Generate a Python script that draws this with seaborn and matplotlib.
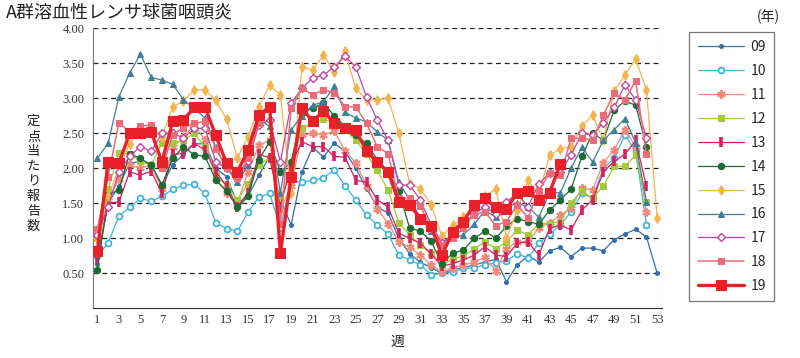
import pandas as pd
import numpy as np
import matplotlib
matplotlib.use("Agg")
import matplotlib.pyplot as plt
import seaborn as sns

sns.set_style("white")
plt.rcParams['font.family'] = ['Noto Sans CJK JP', 'DejaVu Sans']

# 定点当たり報告数（週別）
y09 = [0.64, 1.50, 1.75, 2.07, 2.10, 2.05, 1.75, 2.05, 2.20, 2.35, 2.35, 2.00, 1.88, 1.50, 1.60, 1.90, 2.17, 1.55,
       1.19, 1.95, 2.30, 2.16, 2.36, 2.24, 2.00, 1.71, 1.45, 1.36, 1.00, 0.78, 0.66, 0.58, 0.50, 0.55, 0.58, 0.62,
       0.66, 0.70, 0.38, 0.62, 0.75, 0.66, 0.82, 0.87, 0.74, 0.86, 0.86, 0.82, 0.98, 1.06, 1.13, 1.02, 0.50]
y10 = [0.75, 0.93, 1.32, 1.44, 1.57, 1.53, 1.60, 1.70, 1.76, 1.77, 1.64, 1.22, 1.14, 1.10, 1.37, 1.59, 1.64, 1.15,
       1.82, 1.80, 1.83, 1.86, 1.98, 1.75, 1.55, 1.33, 1.19, 1.06, 0.76, 0.69, 0.62, 0.48, 0.50, 0.52, 0.57, 0.58,
       0.62, 0.65, 0.68, 0.78, 0.72, 0.93, 1.06, 1.19, 1.38, 1.64, 1.58, 2.00, 2.14, 2.48, 2.24, 1.19]
y11 = [1.00, 1.55, 1.85, 2.05, 2.00, 2.05, 1.70, 2.30, 2.45, 2.62, 2.40, 1.85, 1.65, 1.50, 1.95, 2.33, 2.40, 1.40,
       1.75, 2.47, 2.50, 2.48, 2.53, 2.25, 2.08, 1.75, 1.42, 1.21, 0.95, 0.87, 0.76, 0.62, 0.52, 0.58, 0.62, 0.66,
       0.73, 0.54, 0.85, 0.95, 0.95, 1.15, 1.22, 1.33, 1.43, 1.72, 1.69, 2.08, 2.26, 2.55, 2.31, 1.38]
y12 = [1.00, 1.70, 2.22, 2.20, 2.10, 2.05, 2.36, 2.36, 2.40, 2.50, 2.30, 1.90, 1.75, 1.55, 1.78, 2.05, 2.15, 1.55,
       2.00, 2.57, 2.65, 2.70, 2.65, 2.55, 2.40, 2.20, 1.97, 1.69, 1.22, 1.05, 0.90, 0.78, 0.62, 0.70, 0.75, 0.85,
       0.95, 0.85, 0.95, 1.12, 1.05, 1.21, 1.21, 1.24, 1.51, 1.68, 1.57, 1.75, 2.03, 2.03, 2.19, 1.52]
y13 = [0.70, 1.50, 1.52, 1.95, 1.90, 1.96, 1.64, 2.20, 2.21, 2.36, 2.26, 1.95, 1.75, 1.45, 1.65, 2.20, 2.15, 1.45,
       2.05, 2.38, 2.31, 2.31, 2.17, 2.16, 1.83, 1.80, 1.55, 1.45, 1.07, 1.00, 0.93, 0.78, 0.60, 0.64, 0.69, 0.76,
       0.88, 0.76, 0.74, 0.93, 0.95, 0.76, 1.14, 1.19, 1.12, 1.40, 1.55, 1.95, 2.10, 2.20, 2.40, 1.74]
y14 = [0.55, 1.62, 1.69, 2.21, 2.14, 2.05, 1.76, 2.14, 2.31, 2.19, 2.17, 1.83, 1.68, 1.44, 1.60, 2.12, 2.38, 1.95,
       2.09, 2.79, 2.86, 2.93, 2.75, 2.60, 2.47, 2.36, 2.12, 1.95, 1.67, 1.15, 1.10, 0.96, 0.63, 0.79, 0.83, 1.00,
       1.10, 1.00, 1.17, 1.28, 1.24, 1.20, 1.40, 1.55, 1.70, 2.17, 2.50, 2.40, 2.83, 2.96, 2.90, 2.31]
y15 = [1.00, 1.60, 2.00, 2.35, 2.55, 2.55, 2.45, 2.88, 2.96, 3.12, 3.12, 2.97, 2.70, 2.15, 2.45, 2.88, 3.19, 3.04,
       1.64, 3.45, 3.40, 3.62, 3.38, 3.67, 3.14, 2.98, 2.98, 3.00, 2.50, 1.78, 1.71, 1.48, 1.03, 1.19, 1.30, 1.45,
       1.60, 1.71, 1.00, 1.40, 1.83, 1.62, 2.19, 2.28, 2.31, 2.60, 2.76, 2.40, 3.10, 3.33, 3.56, 3.12, 1.29]
y16 = [2.14, 2.36, 3.02, 3.36, 3.63, 3.30, 3.26, 3.20, 2.98, 2.85, 2.72, 2.30, 2.00, 1.80, 2.05, 2.70, 2.60, 1.65,
       2.55, 2.75, 2.90, 2.95, 3.17, 2.80, 2.72, 2.66, 2.52, 2.40, 1.80, 1.55, 1.30, 1.10, 0.95, 1.00, 1.05, 1.20,
       1.40, 1.30, 1.45, 1.50, 1.45, 1.30, 1.65, 1.65, 2.00, 2.30, 2.09, 2.40, 2.55, 2.71, 2.36, 1.52]
y17 = [1.05, 1.45, 1.95, 2.17, 2.31, 2.24, 2.50, 2.50, 2.43, 2.57, 2.57, 2.09, 2.00, 1.86, 2.10, 2.62, 2.69, 2.09,
       2.93, 3.14, 3.29, 3.33, 3.45, 3.60, 3.45, 3.02, 2.69, 2.40, 1.76, 1.76, 1.55, 1.19, 0.94, 1.05, 1.20, 1.35,
       1.45, 1.35, 1.52, 1.64, 1.45, 1.78, 1.93, 1.95, 2.19, 2.50, 2.48, 2.65, 2.87, 3.19, 2.98, 2.43]
y18 = [1.14, 1.88, 2.65, 2.52, 2.60, 2.62, 2.00, 2.48, 2.58, 2.64, 2.67, 2.28, 2.00, 1.86, 2.15, 2.64, 2.90, 1.20,
       2.86, 3.14, 3.05, 3.12, 3.08, 2.88, 2.88, 2.64, 2.31, 2.21, 1.57, 1.57, 1.46, 1.14, 0.90, 1.00, 1.15, 1.34,
       1.38, 1.18, 1.24, 1.48, 1.29, 1.68, 1.93, 1.90, 2.43, 2.43, 2.40, 2.76, 3.07, 2.98, 3.25, 2.20]
y19 = [0.82, 2.09, 2.07, 2.50, 2.50, 2.52, 2.09, 2.67, 2.69, 2.87, 2.87, 2.47, 2.07, 1.95, 2.26, 2.76, 2.88, 0.79,
       1.88, 2.86, 2.67, 2.82, 2.64, 2.57, 2.55, 2.24, 2.09, 1.95, 1.52, 1.48, 1.28, 1.17, 0.76, 1.09, 1.24, 1.48,
       1.57, 1.44, 1.42, 1.65, 1.68, 1.54, 1.65, 2.06]

years = ["09", "10", "11", "12", "13", "14", "15", "16", "17", "18", "19"]
values = [y09, y10, y11, y12, y13, y14, y15, y16, y17, y18, y19]
colors = ["#2f6fad", "#3fb4dc", "#f2897a", "#a5c83d", "#d6215f", "#1c6b32",
          "#f5b34e", "#417f97", "#c2449e", "#ea6c7a", "#e8202a"]
yticks = [0.5, 1.0, 1.5, 2.0, 2.5, 3.0, 3.5, 4.0]

# marker style per year
styles = {
    "09": dict(marker="o", ms=2.8, lw=0.9),
    "10": dict(marker="o", ms=4.2, lw=0.9, mfc="white", mew=1.3),
    "11": dict(marker=(6, 2, 0), ms=6, lw=0.9, mew=1.5),
    "12": dict(marker="s", ms=4, lw=0.9),
    "13": dict(marker="|", ms=6.5, lw=0.9, mew=2.6),
    "14": dict(marker="o", ms=4.6, lw=0.9),
    "15": dict(marker="d", ms=4.6, lw=0.9),
    "16": dict(marker="^", ms=4.6, lw=0.9),
    "17": dict(marker="D", ms=3.6, lw=0.9, mfc="white", mew=1.0),
    "18": dict(marker="s", ms=4.6, lw=1.1),
    "19": dict(marker="s", ms=7, lw=2.4),
}

fig = plt.figure(figsize=(8, 3.58), dpi=100)
ax = fig.add_axes([0.1159, 0.1388, 0.711, 0.7822])

for i, (yr, vals) in enumerate(zip(years, values)):
    st = styles[yr]
    df = pd.DataFrame({"week": np.arange(1, len(vals) + 1), "v": vals})
    kw = dict(marker=st["marker"], markersize=st["ms"], linewidth=st["lw"],
              markeredgecolor=colors[i], zorder=3 + i)
    if "mfc" in st:
        kw["markerfacecolor"] = st["mfc"]
    if "mew" in st:
        kw["markeredgewidth"] = st["mew"]
    sns.lineplot(data=df, x="week", y="v", color=colors[i], ax=ax, label=yr, **kw)

ax.set_xlim(0.57, 53.4)
ax.set_ylim(0, 4.0)
ax.set_yticks(yticks)
ax.set_yticklabels([f"{t:.2f}" for t in yticks], family="Liberation Serif", fontsize=9, color="#333333")
ax.set_xticks(range(1, 54))
ax.set_xticklabels([str(w) if w % 2 == 1 else "" for w in range(1, 54)],
                   family="Liberation Serif", fontsize=9, color="#333333")
ax.tick_params(axis="x", direction="in", length=5, width=0.8, color="#333333", pad=4)
ax.tick_params(axis="y", length=0, pad=6)
for t in yticks:
    ax.axhline(t, color="#222222", lw=0.9, ls=(0, (4, 3)), zorder=1)
ax.axvline(53.4, color="#555555", lw=0.8, ls=(0, (1.5, 1.5)), zorder=1)
ax.spines["top"].set_visible(False)
ax.spines["right"].set_visible(False)
ax.spines["left"].set_color("#777777")
ax.spines["bottom"].set_color("#333333")
ax.set_xlabel("")
ax.set_ylabel("")

ax.get_legend().remove()
handles, labels = ax.get_legend_handles_labels()
leg = fig.legend(handles, labels, loc="upper left", bbox_to_anchor=(0.853, 0.93),
                 fontsize=10, labelspacing=0.71, handlelength=3.3, handletextpad=0.5,
                 borderpad=0.6, frameon=True, fancybox=False, edgecolor="#555555")
leg.get_frame().set_linewidth(0.9)

fig.text(0.008, 0.965, "A群溶血性レンサ球菌咽頭炎", fontsize=13, ha="left", va="center", color="#222222")
fig.text(0.96, 0.952, "(年)", fontsize=10, ha="center", va="center", color="#222222")
fig.text(0.042, 0.515, "\n".join("定点当たり報告数"), fontsize=9.5, ha="center", va="center",
         linespacing=1.2, color="#222222")
fig.text(0.497, 0.045, "週", fontsize=10, ha="center", va="center", color="#222222")

fig.savefig("out.png", dpi=100)
